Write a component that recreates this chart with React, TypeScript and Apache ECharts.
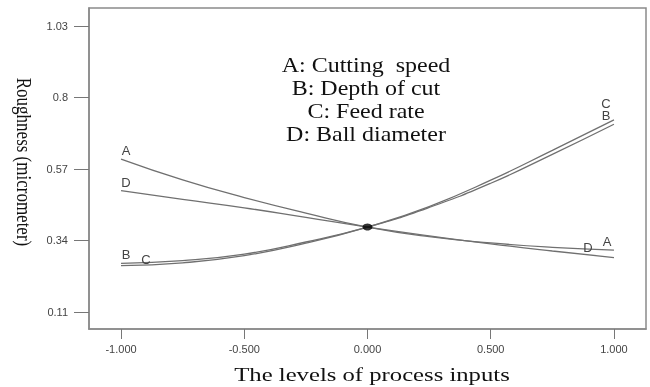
import React, { useEffect, useRef } from "react";
import * as echarts from "echarts";

const levels = [-1, -0.75, -0.5, -0.25, 0, 0.25, 0.5, 0.75, 1];
const seriesA = [0.602, 0.535, 0.478, 0.428, 0.383, 0.352, 0.332, 0.318, 0.309];
const seriesB = [0.266, 0.275, 0.296, 0.335, 0.383, 0.446, 0.524, 0.617, 0.714];
const seriesC = [0.259, 0.268, 0.291, 0.331, 0.383, 0.449, 0.534, 0.630, 0.728];
const seriesD = [0.5, 0.472, 0.445, 0.414, 0.383, 0.355, 0.329, 0.306, 0.285];
const centerPoint = [0, 0.383];
const xTicks = [-1, -0.5, 0, 0.5, 1];
const yTicks = [0.11, 0.34, 0.57, 0.8, 1.03];
const legendLines = ["A: Cutting  speed", "B: Depth of cut", "C: Feed rate", "D: Ball diameter"];
const xTitle = "The levels of process inputs";
const yTitle = "Roughness (micrometer)";

const sans = "Liberation Sans, Arial, sans-serif";
const serif = "Liberation Serif, Times New Roman, serif";
const labelStyle = { color: "#444", fontFamily: sans, fontSize: 13 };

function makeData(vals: number[], name: string, leftOffset: number[], rightOffset: number[]) {
  return levels.map((x, i) => {
    const item: any = { value: [x, vals[i]] };
    if (i === 0 || i === levels.length - 1) {
      item.label = {
        show: true,
        formatter: name,
        position: "top",
        distance: 2,
        offset: i === 0 ? leftOffset : rightOffset,
        ...labelStyle,
      };
    }
    return item;
  });
}

export default function App() {
  const ref = useRef<HTMLDivElement>(null);
  useEffect(() => {
    if (!ref.current) return;
    const chart = echarts.init(ref.current, null, { renderer: "svg" });
    const lineStyle = { color: "#707070", width: 1.3 };
    const mk = (name: string, vals: number[], lo: number[], ro: number[]) => ({
      type: "line",
      name,
      smooth: true,
      showSymbol: true,
      symbol: "circle",
      symbolSize: 0,
      lineStyle,
      data: makeData(vals, name, lo, ro),
      z: 2,
    });
    chart.setOption({
      animation: false,
      grid: {
        left: 89,
        top: 8,
        right: 4,
        bottom: 58,
        show: true,
        borderColor: "#8a8a8a",
        borderWidth: 1.5,
        backgroundColor: "#fff",
      },
      xAxis: {
        type: "value",
        min: -1.13,
        max: 1.13,
        splitLine: { show: false },
        axisLine: { show: true, onZero: false, lineStyle: { color: "#8a8a8a", width: 1.5 } },
        axisTick: { show: true, length: 10, customValues: xTicks, lineStyle: { color: "#777" } },
        axisLabel: {
          customValues: xTicks,
          formatter: (v: number) => v.toFixed(3),
          color: "#444",
          fontSize: 11,
          fontFamily: sans,
          margin: 14,
        },
      },
      yAxis: {
        type: "value",
        min: 0.055,
        max: 1.088,
        splitLine: { show: false },
        axisLine: { show: true, onZero: false, lineStyle: { color: "#8a8a8a", width: 1.5 } },
        axisTick: { show: true, length: 15, customValues: yTicks, lineStyle: { color: "#777" } },
        axisLabel: {
          customValues: yTicks,
          formatter: (v: number) => String(Number(v.toFixed(2))),
          color: "#444",
          fontSize: 11,
          fontFamily: sans,
          margin: 21,
        },
      },
      series: [
        mk("A", seriesA, [5, 0], [-7, 0]),
        mk("B", seriesB, [5, 0], [-8, 0]),
        mk("C", seriesC, [25, 2], [-8, -8]),
        mk("D", seriesD, [5, 0], [-26, -2]),
        {
          type: "scatter",
          data: [centerPoint],
          symbol: "circle",
          symbolSize: [10, 7],
          itemStyle: { color: "#000" },
          z: 5,
        },
      ],
      graphic: [
        {
          type: "text",
          x: 366,
          y: 54,
          scaleX: 1.2,
          style: {
            x: 0,
            y: 0,
            text: legendLines.join("\n"),
            fontFamily: serif,
            fontSize: 20,
            lineHeight: 23,
            fill: "#111",
            align: "center",
            verticalAlign: "top",
          },
        },
        {
          type: "text",
          x: 372,
          y: 375,
          scaleX: 1.3,
          style: {
            x: 0,
            y: 0,
            text: xTitle,
            fontFamily: serif,
            fontSize: 19,
            fill: "#111",
            align: "center",
            verticalAlign: "middle",
          },
        },
        {
          type: "text",
          x: 24,
          y: 162,
          rotation: -Math.PI / 2,
          scaleY: 1.2,
          style: {
            x: 0,
            y: 0,
            text: yTitle,
            fontFamily: serif,
            fontSize: 17,
            fill: "#111",
            align: "center",
            verticalAlign: "middle",
          },
        },
      ],
    });
    return () => chart.dispose();
  }, []);
  return <div ref={ref} style={{ position: "fixed", left: 0, top: 0, width: 650, height: 387 }} />;
}
